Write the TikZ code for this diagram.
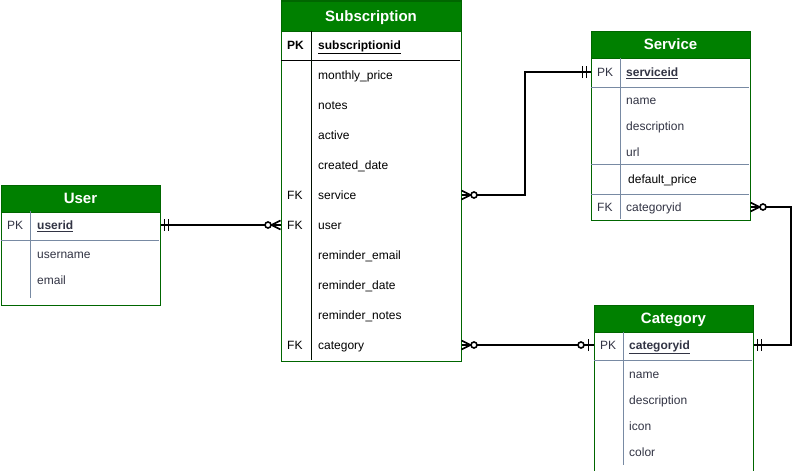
\documentclass[tikz,border=0pt]{standalone}
\usepackage{fontspec}
\setmainfont{Liberation Sans}

\begin{document}
\begin{tikzpicture}[x=1pt, y=-1pt, font=\fontsize{12}{14}\selectfont]

\definecolor{head_color}{RGB}{0,128,0}
\definecolor{frame_color}{RGB}{0,102,0}
\definecolor{sep_color}{RGB}{120,138,163}
\definecolor{fieldtext}{RGB}{50,52,68}

\tikzset{
  tbl/.style={draw=frame_color, line width=1pt, fill=white, anchor=north west, inner sep=0pt},
  hdr/.style={draw=frame_color, line width=1pt, fill=head_color, anchor=north west, inner sep=0pt,
    text=white, font=\fontsize{15}{17}\selectfont\bfseries, text height=12pt, text depth=2pt},
  sep/.style={line width=0.8pt, draw=sep_color},
  fld/.style={anchor=west, inner sep=0pt, text height=10.1pt, text depth=0.9pt, text=fieldtext},
  sfld/.style={fld, text=black},
  rel/.style={line width=1.6pt, draw=black},
  relmark/.style={line width=1.6pt, draw=black},
  onebar/.pic={\draw[relmark] (4,-6) -- (4,6) (8,-6) -- (8,6);},
  crowzero/.pic={\draw[relmark] (0,-4.5) -- (9,0) -- (0,4.5);
    \draw[relmark, fill=white] (12.5,0) circle[radius=3];},
  zeroone/.pic={\draw[relmark] (5,-6) -- (5,6);
    \draw[relmark, fill=white] (12.5,0) circle[radius=3];},
}

\newcommand{\ertable}[7]{%
  \node[tbl, minimum width=#4pt, minimum height=#5pt] (#1) at (#2, #3) {};
  \node[hdr, minimum width=#4pt, minimum height=#6pt] (#1-h) at (#2, #3) {#7};
}

\useasboundingbox (0,0) rectangle (801,471);

\ertable{user}{0.5}{184.5}{159}{120}{27}{User}
\ertable{sub}{280.5}{0.5}{180}{360}{30}{Subscription}
\ertable{serv}{590.5}{30.5}{159}{189}{27}{Service}
\ertable{cat}{593.5}{304.5}{159}{166}{27}{Category}

\draw[sep] (1,240) -- (159,240);
\draw[sep] (30,211) -- (30,298);
\draw[line width=1pt] (281,60) -- (460,60);
\draw[line width=1pt, draw=black!85!frame_color] (311,30.5) -- (311,360);
\draw[sep] (591,87) -- (749,87);
\draw[sep] (591,164) -- (749,164);
\draw[sep] (591,194) -- (749,194);
\draw[sep] (620,57.5) -- (620,219);
\draw[sep] (594,360) -- (752,360);
\draw[sep] (623,331.5) -- (623,465);

\node[fld] (u-pk) at (7,225) {PK};
\node[fld] (u-id) at (37,225) {\bfseries\underline{userid}};
\node[fld] (u-name) at (37,254) {username};
\node[fld] (u-email) at (37,280) {email};

\node[sfld] (s-pk) at (287,45) {\bfseries PK};
\node[sfld] (s-id) at (318,45) {\bfseries\underline{subscriptionid}};
\node[sfld] (s-price) at (318,75) {monthly\_price};
\node[sfld] (s-notes) at (318,105) {notes};
\node[sfld] (s-active) at (318,135) {active};
\node[sfld] (s-created) at (318,165) {created\_date};
\node[sfld] (s-fk1) at (287,195) {FK};
\node[sfld] (s-service) at (318,195) {service};
\node[sfld] (s-fk2) at (287,225) {FK};
\node[sfld] (s-user) at (318,225) {user};
\node[sfld] (s-remmail) at (318,255) {reminder\_email};
\node[sfld] (s-remdate) at (318,285) {reminder\_date};
\node[sfld] (s-remnotes) at (318,315) {reminder\_notes};
\node[sfld] (s-fk3) at (287,345) {FK};
\node[sfld] (s-cat) at (318,345) {category};

\node[fld] (v-pk) at (597,72) {PK};
\node[fld] (v-id) at (626,72) {\bfseries\underline{serviceid}};
\node[fld] (v-name) at (626,100) {name};
\node[fld] (v-desc) at (626,126) {description};
\node[fld] (v-url) at (626,152) {url};
\node[sfld] (v-price) at (628,179) {default\_price};
\node[fld] (v-fk) at (597,207) {FK};
\node[fld] (v-catid) at (626,207) {categoryid};

\node[fld] (c-pk) at (600,345) {PK};
\node[fld] (c-id) at (629,345) {\bfseries\underline{categoryid}};
\node[fld] (c-name) at (629,374) {name};
\node[fld] (c-desc) at (629,400) {description};
\node[fld] (c-icon) at (629,426) {icon};
\node[fld] (c-color) at (629,452) {color};

\coordinate (bend1) at (525,0);
\coordinate (bend2) at (791,0);

\draw[rel] (user.east |- u-id) -- (sub.west |- s-user);
\draw[rel] (sub.east |- s-service) -| (bend1 |- v-id) -- (serv.west |- v-id);
\draw[rel] (sub.east |- s-cat) -- (cat.west |- c-id);
\draw[rel] (serv.east |- v-catid) -| (bend2 |- c-id) -- (cat.east |- c-id);

\pic at (user.east |- u-id) {onebar};
\pic[rotate=180] at (sub.west |- s-user) {crowzero};
\pic at (sub.east |- s-service) {crowzero};
\pic[rotate=180] at (serv.west |- v-id) {onebar};
\pic at (sub.east |- s-cat) {crowzero};
\pic[rotate=180] at (cat.west |- c-id) {zeroone};
\pic at (serv.east |- v-catid) {crowzero};
\pic at (cat.east |- c-id) {onebar};

\end{tikzpicture}
\end{document}
